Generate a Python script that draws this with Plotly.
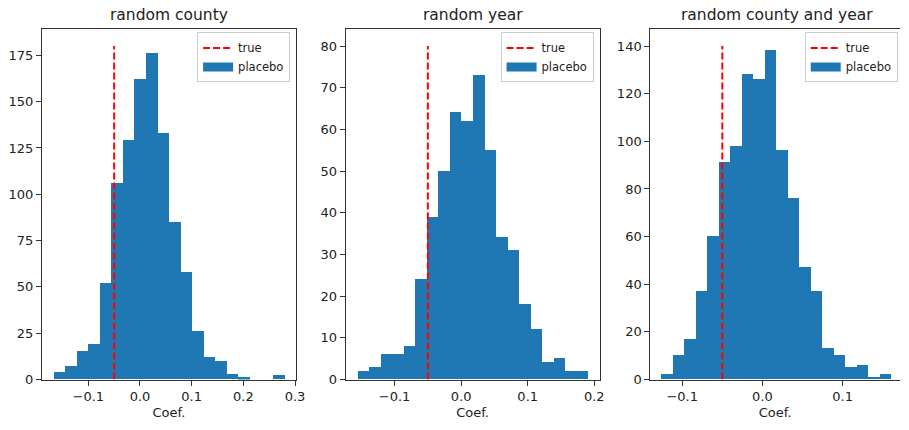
import numpy as np
import plotly.graph_objects as go

# ---------------- data ----------------
titles = ["random county", "random year", "random county and year"]
true_coef = -0.05
line_tops = [180, 80, 140]

county_range = (-0.1675, 0.2796)
county_counts = [4, 7, 15, 19, 52, 106, 129, 162, 176, 133, 85, 58, 26, 12, 10, 3, 1, 0, 0, 2]

year_range = (-0.1563, 0.1905)
year_counts = [2, 3, 6, 6, 8, 24, 39, 50, 64, 62, 73, 55, 34, 31, 18, 12, 4, 5, 2, 2]

both_range = (-0.1255, 0.1609)
both_counts = [2, 10, 17, 37, 60, 91, 98, 128, 126, 138, 96, 76, 47, 37, 13, 10, 5, 6, 1, 2]

y_dticks = [25, 10, 20]
x_ticks = [[-0.1, 0.0, 0.1, 0.2, 0.3], [-0.1, 0.0, 0.1, 0.2], [-0.1, 0.0, 0.1]]

panels = [(county_range, county_counts), (year_range, year_counts), (both_range, both_counts)]

# ---------------- layout params ----------------
W, H = 909, 430
x_dom_px = [(42.3, 299.0), (349.0, 605.5), (656.8, 909.0)]
right_crop = [1.0, 1.0, 0.9886]   # last panel is cut off at the figure edge
y_dom = [1 - 386.7 / H, 1 - 30.0 / H]
FONT = "DejaVu Sans"
BLUE = "#1f77b4"
AX = "#333333"
TXT = "#222222"

fig = go.Figure()
annotations = []
layout_axes = {}

for i, ((lo, hi), counts) in enumerate(panels):
    n = len(counts)
    edges = np.linspace(lo, hi, n + 1)
    centers = (edges[:-1] + edges[1:]) / 2
    width = edges[1] - edges[0]
    sfx = "" if i == 0 else str(i + 1)
    xa, ya = "x" + sfx, "y" + sfx
    leg = "legend" + sfx

    # true coefficient line
    fig.add_trace(go.Scatter(
        x=[true_coef, true_coef], y=[0, line_tops[i]], mode="lines",
        line=dict(color="red", width=2, dash="7px,3px"),
        name="true", xaxis=xa, yaxis=ya, legend=leg, showlegend=True,
        hoverinfo="skip"))
    # histogram bars
    fig.add_trace(go.Bar(
        x=centers, y=counts, width=width, marker=dict(color=BLUE, line=dict(width=0)),
        name="placebo", xaxis=xa, yaxis=ya, showlegend=False))
    # legend patch for placebo
    fig.add_trace(go.Scatter(
        x=[None], y=[None], mode="lines", line=dict(color=BLUE, width=9),
        name="placebo", xaxis=xa, yaxis=ya, legend=leg, showlegend=True))

    xmin = min(lo, true_coef)
    span = hi - xmin
    r0 = xmin - 0.05 * span
    r1 = hi + 0.05 * span
    r1 = r0 + (r1 - r0) * right_crop[i]
    ytop = 1.05 * max(max(counts), line_tops[i])

    d0 = x_dom_px[i][0] / W
    d1 = x_dom_px[i][1] / W
    layout_axes["xaxis" + sfx] = dict(
        domain=[d0, d1], range=[r0, r1], anchor=ya,
        tickmode="array", tickvals=x_ticks[i], tickformat=".1f",
        ticks="outside", ticklen=5, tickwidth=1, tickcolor=AX,
        showline=True, linecolor=AX, linewidth=1, mirror=True,
        showgrid=False, zeroline=False,
        tickfont=dict(family=FONT, size=13, color=TXT),
        title=dict(text="Coef.", font=dict(family=FONT, size=13, color=TXT), standoff=4),
    )
    layout_axes["yaxis" + sfx] = dict(
        domain=y_dom, range=[0, ytop], anchor=xa,
        dtick=y_dticks[i], tick0=0,
        ticks="outside", ticklen=5, tickwidth=1, tickcolor=AX,
        showline=True, linecolor=AX, linewidth=1, mirror=(i < 2),
        showgrid=False, zeroline=False,
        tickfont=dict(family=FONT, size=13, color=TXT),
    )
    layout_axes[leg] = dict(
        x=(x_dom_px[i][1] - 6 if i < 2 else 906.7) / W, y=1 - 33.0 / H,
        xanchor="right", yanchor="top",
        bgcolor="rgba(255,255,255,0.85)", bordercolor="#cccccc", borderwidth=1,
        font=dict(family=FONT, size=11.5, color=TXT),
        itemwidth=30, tracegroupgap=0,
    )
    cx = (x_dom_px[i][0] + (x_dom_px[i][1] if i < 2 else 911.9)) / 2 / W
    annotations.append(dict(
        text=titles[i], x=cx,
        y=1 - 15.0 / H, xref="paper", yref="paper", xanchor="center", yanchor="middle",
        showarrow=False, font=dict(family=FONT, size=15.5, color=TXT)))

fig.update_layout(
    width=W, height=H,
    margin=dict(l=0, r=0, t=0, b=0),
    paper_bgcolor="white", plot_bgcolor="white",
    bargap=0, barmode="overlay",
    annotations=annotations,
    **layout_axes,
)

fig.write_html("out.html", config={"displayModeBar": False},
               post_script="document.body.style.margin='0';")
